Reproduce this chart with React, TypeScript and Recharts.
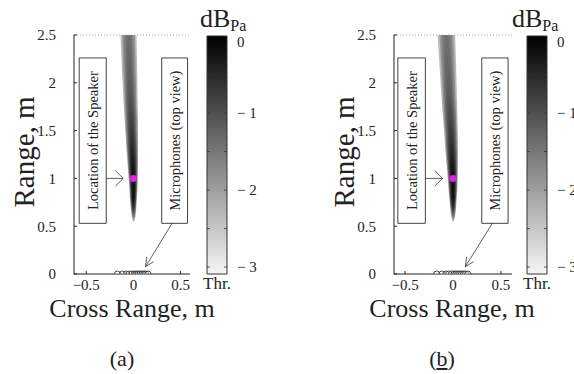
import React from "react";
import {
  ComposedChart,
  XAxis,
  YAxis,
  Area,
  Scatter,
  ReferenceArea,
  ReferenceLine,
} from "recharts";

const FONT = '"Liberation Serif", "Times New Roman", serif';
const INK = "#222";

// range (m) of the beam samples
const beamRange = [0.55, 0.6, 0.7, 0.8, 0.9, 1.0, 1.1, 1.2, 1.3, 1.4, 1.5, 1.6, 1.7, 1.8, 1.9, 2.0, 2.1, 2.2, 2.3, 2.4, 2.5];

// panel (a) beam: cross-range centre, half width (m) and peak level (dB)
const beamCenterA = [0.002, 0.002, 0.001, 0.0, 0.0, -0.002, -0.005, -0.008, -0.012, -0.015, -0.019, -0.022, -0.026, -0.03, -0.033, -0.036, -0.04, -0.043, -0.046, -0.049, -0.052];
const beamHalfA = [0.008, 0.02, 0.03, 0.037, 0.043, 0.048, 0.053, 0.057, 0.061, 0.064, 0.067, 0.07, 0.072, 0.074, 0.076, 0.078, 0.08, 0.082, 0.083, 0.084, 0.085];
const beamLevelA = [-2.4, -1.4, -0.4, 0, 0, 0, -0.05, -0.15, -0.3, -0.45, -0.55, -0.65, -0.75, -0.85, -0.95, -1.0, -1.05, -1.1, -1.15, -1.2, -1.25];

// panel (b) beam
const beamCenterB = [0.002, 0.002, 0.001, 0.0, -0.001, -0.003, -0.006, -0.01, -0.014, -0.018, -0.022, -0.027, -0.032, -0.037, -0.042, -0.046, -0.051, -0.055, -0.06, -0.064, -0.068];
const beamHalfB = [0.008, 0.02, 0.031, 0.039, 0.046, 0.051, 0.056, 0.061, 0.065, 0.068, 0.071, 0.074, 0.077, 0.079, 0.081, 0.083, 0.085, 0.087, 0.089, 0.09, 0.092];
const beamLevelB = [-2.4, -1.4, -0.4, 0, 0, 0, -0.05, -0.2, -0.35, -0.5, -0.6, -0.7, -0.8, -0.9, -1.0, -1.05, -1.1, -1.15, -1.2, -1.25, -1.3];

// microphone positions along cross range (m), all at range 0
const micX = [-0.17, -0.115, -0.075, -0.045, -0.015, 0.01, 0.03, 0.05, 0.07, 0.09, 0.11, 0.13, 0.155];
const speaker = { x: 0, y: 1 };

const xTicks = [-0.5, 0, 0.5];
const yTicks = [0, 0.5, 1, 1.5, 2, 2.5];
const barTicks = [-3, -2, -1, 0];
const barMinor = [-0.5, -1, -1.5, -2, -2.5, -3];
const barLimits = [-3.09, 0];

// annotation boxes and arrows (data coords)
const speakerBox = { x1: -0.575, x2: -0.288, y1: 0.53, y2: 2.26 };
const micBox = { x1: 0.3, x2: 0.574, y1: 0.53, y2: 2.26 };
const speakerArrow = [[-0.288, 1.0], [-0.108, 1.0]];
const speakerHead = [[-0.19, 1.08], [-0.108, 1.0], [-0.19, 0.92]];
const micArrow = [[0.41, 0.53], [0.128, 0.076]];
const micHead = [[0.215, 0.13], [0.128, 0.076], [0.142, 0.18]];

// soft edge of the beam: nested layers, fraction of half width
const LAYERS = [1.0, 0.8, 0.6, 0.42, 0.25];

const grey = (lvl: number) => {
  const g = Math.round(Math.min(245, -lvl * 80));
  return `rgb(${g},${g},${g})`;
};

const fmtX = (v: number) => (v < 0 ? `\u2212${Math.abs(v)}` : String(v));

interface PanelSpec {
  id: string;
  left: number;
  domain: [number, number];
  plotWidth: number;
  center: number[];
  half: number[];
  level: number[];
  caption: React.ReactNode;
  dbLeft: number;
}

const PANELS: PanelSpec[] = [
  { id: "a", left: 0, domain: [-0.63, 0.6], plotWidth: 116, center: beamCenterA, half: beamHalfA, level: beamLevelA, caption: "(a)", dbLeft: 200 },
  {
    id: "b", left: 320, domain: [-0.615, 0.615], plotWidth: 118, center: beamCenterB, half: beamHalfB, level: beamLevelB,
    caption: (<span>(<u>b</u>)</span>), dbLeft: 192,
  },
];

function Segs({ pts }: { pts: number[][] }) {
  return (
    <>
      {pts.slice(1).map((p, i) => (
        <ReferenceLine
          key={i}
          segment={[{ x: pts[i][0], y: pts[i][1] }, { x: p[0], y: p[1] }]}
          stroke="#333"
          strokeWidth={0.8}
        />
      ))}
    </>
  );
}

function BarTick(props: any) {
  const { x, y, payload } = props;
  const v = payload.value as number;
  const label = v === 0 ? "0" : `\u2212 ${Math.abs(v)}`;
  return (
    <text x={x} y={y + (v === 0 ? 6 : 0)} dy="0.35em" textAnchor="start" fontSize={15} fill={INK} fontFamily={FONT}>
      {label}
    </text>
  );
}

function Panel({ p }: { p: PanelSpec }) {
  const rows = beamRange.map((y, i) => {
    const row: Record<string, any> = { y };
    LAYERS.forEach((f, k) => {
      row[`band${k}`] = [p.center[i] - p.half[i] * f, p.center[i] + p.half[i] * f];
    });
    return row;
  });
  const top = beamRange[beamRange.length - 1];
  const span = top - beamRange[0];
  const mics = micX.map((x) => ({ x, y: 0 }));
  const barCorners = [{ x: 0, y: barLimits[0] }, { x: 1, y: barLimits[1] }];
  const textStyle: React.CSSProperties = { position: "absolute", whiteSpace: "nowrap", lineHeight: 1, color: INK };
  // gradient runs from the top of the beam (offset 0) down to its tip
  const stops = beamRange
    .map((y, i) => ({ offset: ((top - y) / span) * 100, color: grey(p.level[i]) }))
    .reverse();
  return (
    <div style={{ position: "absolute", left: p.left, top: 0, width: 290, height: 374 }}>
      <svg width={0} height={0} style={{ position: "absolute" }}>
        <defs>
          <linearGradient id={`beam-${p.id}`} x1="0" y1="0" x2="0" y2="1">
            {stops.map((s, i) => (
              <stop key={i} offset={`${s.offset}%`} stopColor={s.color} />
            ))}
          </linearGradient>
          <linearGradient id={`cbar-${p.id}`} x1="0" y1="0" x2="0" y2="1">
            <stop offset="0%" stopColor="#000" />
            <stop offset="100%" stopColor="#f5f5f5" />
          </linearGradient>
        </defs>
      </svg>

      <div style={{ position: "absolute", left: 0, top: 0 }}>
        <ComposedChart
          layout="vertical"
          data={rows}
          width={290}
          height={374}
          margin={{ top: 35, right: 290 - 74 - p.plotWidth, bottom: 70, left: 34 }}
        >
          <XAxis
            type="number"
            dataKey="x"
            domain={p.domain}
            ticks={xTicks}
            allowDataOverflow
            height={30}
            tickSize={-3}
            tickMargin={8}
            tickFormatter={fmtX}
            axisLine={{ stroke: INK }}
            tickLine={{ stroke: INK }}
            tick={{ fontSize: 15, fill: INK, fontFamily: FONT }}
          />
          <YAxis
            type="number"
            dataKey="y"
            domain={[0, 2.5]}
            ticks={yTicks}
            reversed
            allowDataOverflow
            width={40}
            tickSize={-3}
            tickMargin={21}
            axisLine={{ stroke: INK }}
            tickLine={{ stroke: INK }}
            tick={{ fontSize: 15, fill: INK, fontFamily: FONT }}
          />
          <ReferenceLine y={2.5} stroke="#aaa" strokeDasharray="1 2" />
          {LAYERS.map((f, k) => (
            <Area
              key={k}
              type="monotone"
              dataKey={`band${k}`}
              stroke="none"
              fill={`url(#beam-${p.id})`}
              fillOpacity={0.42}
              dot={false}
              activeDot={false}
              isAnimationActive={false}
            />
          ))}
          <ReferenceArea
            {...speakerBox}
            fill="#fff"
            fillOpacity={1}
            stroke="#444"
            strokeWidth={1}
            label={{ value: "Location of the Speaker", angle: -90, position: "center", fontSize: 14.5, fill: INK, fontFamily: FONT }}
          />
          <ReferenceArea
            {...micBox}
            fill="#fff"
            fillOpacity={1}
            stroke="#444"
            strokeWidth={1}
            label={{ value: "Microphones (top view)", angle: -90, position: "center", fontSize: 14.5, fill: INK, fontFamily: FONT }}
          />
          <Segs pts={speakerArrow} />
          <Segs pts={speakerHead} />
          <Segs pts={micArrow} />
          <Segs pts={micHead} />
          <Scatter
            data={mics}
            isAnimationActive={false}
            shape={(s: any) => <circle cx={s.cx} cy={s.cy} r={3} fill="#fff" fillOpacity={0.3} stroke="#333" strokeWidth={0.9} />}
          />
          <Scatter
            data={[speaker]}
            isAnimationActive={false}
            shape={(s: any) => <circle cx={s.cx} cy={s.cy} r={3.5} fill="#e61ee6" />}
          />
        </ComposedChart>
      </div>

      <div style={{ position: "absolute", left: 190, top: 0 }}>
        <ComposedChart width={80} height={374} margin={{ top: 36, right: 0, bottom: 100, left: 17 }}>
          <XAxis type="number" dataKey="x" domain={[0, 1]} hide />
          <YAxis
            type="number"
            dataKey="y"
            orientation="right"
            domain={barLimits}
            ticks={barTicks}
            allowDataOverflow
            width={43}
            tickSize={0}
            tickMargin={10}
            axisLine={false}
            tickLine={false}
            tick={<BarTick />}
          />
          <Scatter data={barCorners} isAnimationActive={false} shape={() => <g />} />
          <ReferenceArea x1={0} x2={1} y1={barLimits[0]} y2={barLimits[1]} fill={`url(#cbar-${p.id})`} fillOpacity={1} stroke="#333" strokeWidth={1} />
          {barMinor.map((v) => (
            <ReferenceLine key={`l${v}`} segment={[{ x: 0, y: v }, { x: 0.15, y: v }]} stroke="#333" strokeWidth={0.8} />
          ))}
          {barMinor.map((v) => (
            <ReferenceLine key={`r${v}`} segment={[{ x: 0.85, y: v }, { x: 1, y: v }]} stroke="#333" strokeWidth={0.8} />
          ))}
        </ComposedChart>
      </div>

      <div style={{ ...textStyle, left: p.dbLeft, top: 6, fontSize: 26 }}>
        dB<span style={{ fontSize: 16, position: "relative", top: 4 }}>Pa</span>
      </div>
      <div style={{ ...textStyle, left: 217, top: 283, fontSize: 17, transform: "translate(-50%,-50%)" }}>Thr.</div>
      <div style={{ ...textStyle, left: 24, top: 152, fontSize: 29, transform: "translate(-50%,-50%) rotate(-90deg)" }}>Range, m</div>
      <div style={{ ...textStyle, left: 132, top: 309, fontSize: 26, transform: "translate(-50%,-50%)" }}>Cross Range, m</div>
      <div style={{ ...textStyle, left: 122, top: 359, fontSize: 22, transform: "translate(-50%,-50%)" }}>{p.caption}</div>
    </div>
  );
}

export default function App() {
  return (
    <div
      style={{
        position: "absolute",
        left: 0,
        top: 0,
        width: 574,
        height: 374,
        overflow: "hidden",
        background: "#fff",
        fontFamily: FONT,
      }}
    >
      {PANELS.map((p) => (
        <Panel key={p.id} p={p} />
      ))}
    </div>
  );
}
